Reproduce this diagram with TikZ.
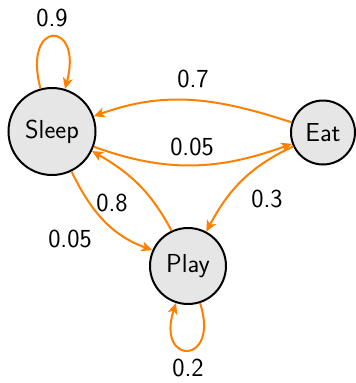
\documentclass[tikz,border=0pt]{standalone}
\usetikzlibrary{arrows.meta}
\definecolor{nodefill}{RGB}{230,230,230}
\definecolor{edgeorange}{RGB}{255,128,0}
\tikzset{
  state/.style={circle, draw=black, line width=2pt, fill=nodefill, inner sep=0pt, font=\sffamily\fontsize{26}{31}\selectfont},
  trans/.style={draw=edgeorange, line width=2pt, -{Stealth[length=11pt,width=10pt,inset=3pt]}},
  lbl/.style={font=\sffamily\fontsize{26}{31}\selectfont, inner sep=0pt}
}
\begin{document}
\begin{tikzpicture}[x=1pt,y=-1pt]
\useasboundingbox (0,0) rectangle (356,383);
\node[state, minimum size=87pt] (S) at (52,131.5) {Sleep};
\node[state, minimum size=64pt] (E) at (323,132.5) {Eat};
\node[state, minimum size=76pt] (P) at (188,266) {Play};
% edges
\draw[trans] (S.105) to[out=105,in=75,distance=72] (S.73);
\draw[trans] (E.162) to[out=162,in=20] (S.20);
\draw[trans] (S.-20) to[out=-20,in=200] (E.200);
\draw[trans] (S.-64) to[out=-64,in=160] (P.156);
\draw[trans] (P.115) to[out=118,in=-30] (S.-26);
\draw[trans] (E.205) to[out=205,in=62] (P.62);
\draw[trans] (P.-72) to[out=-72,in=-108,distance=66] (P.-108);
% labels
\node[lbl] (l09) at (52,18) {0.9};
\node[lbl] (l07) at (193,79) {0.7};
\node[lbl] (l005a) at (192,147) {0.05};
\node[lbl] (l005b) at (70,239) {0.05};
\node[lbl] (l08) at (112,203) {0.8};
\node[lbl] (l03) at (267,199) {0.3};
\node[lbl] (l02) at (188,368) {0.2};
\end{tikzpicture}
\end{document}
